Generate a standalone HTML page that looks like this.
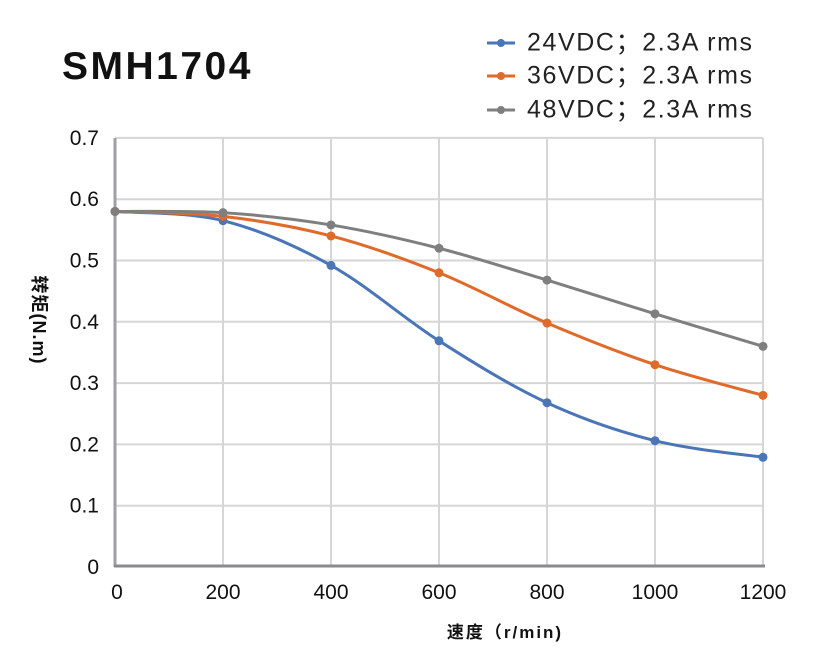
<!DOCTYPE html>
<html><head><meta charset="utf-8"><style>
html,body{margin:0;padding:0;background:#fff;}
svg{display:block;font-family:"Liberation Sans","Noto Sans CJK SC",sans-serif;}
</style></head><body>
<svg id="c" width="831" height="660" viewBox="0 0 831 660" xmlns="http://www.w3.org/2000/svg">
<rect width="831" height="660" fill="#fff"/>
<text x="62" y="79" font-size="39" font-weight="bold" fill="#111" letter-spacing="2.5">SMH1704</text>
<g id="grid" stroke="#d6d6d6" stroke-width="2"></g>
<line x1="115" y1="138" x2="115" y2="567" stroke="#a0a0a4" stroke-width="3"/>
<line x1="114" y1="566" x2="765" y2="566" stroke="#8a8a8e" stroke-width="3"/>
<g id="ylab" font-size="21" fill="#111" text-anchor="end"></g>
<g id="xlab" font-size="21" fill="#111" text-anchor="middle"></g>
<g id="series"></g>
<text x="505" y="638" font-size="17" font-weight="bold" text-anchor="middle" fill="#111" letter-spacing="2">速度（r/min)</text>
<text transform="translate(33,320) rotate(90)" font-size="18" font-weight="bold" text-anchor="middle" fill="#111" letter-spacing="1">转矩(N.m)</text>
<g font-size="25" fill="#222" letter-spacing="1.6">
<line x1="487" y1="43" x2="515" y2="43" stroke="#4a76b8" stroke-width="3"/><circle cx="501" cy="43" r="4" fill="#4a76b8"/>
<text x="527" y="44" dominant-baseline="middle">24VDC；2.3A rms</text>
<line x1="487" y1="76" x2="515" y2="76" stroke="#e06a2a" stroke-width="3"/><circle cx="501" cy="76" r="4" fill="#e06a2a"/>
<text x="527" y="77" dominant-baseline="middle">36VDC；2.3A rms</text>
<line x1="487" y1="110" x2="515" y2="110" stroke="#7f7f7f" stroke-width="3"/><circle cx="501" cy="110" r="4" fill="#7f7f7f"/>
<text x="527" y="111" dominant-baseline="middle">48VDC；2.3A rms</text>
</g>
</svg>
<script>
var NS="http://www.w3.org/2000/svg";
function el(t,a,p){var e=document.createElementNS(NS,t);for(var k in a)e.setAttribute(k,a[k]);p.appendChild(e);return e;}
var X=function(v){return 115+v*0.54;},Y=function(v){return 567-v*613;};
var g=document.getElementById('grid'),yl=document.getElementById('ylab'),xl=document.getElementById('xlab');
for(var i=1;i<=7;i++){var y=Y(i/10);el('line',{x1:115,y1:y,x2:763,y2:y},g);}
for(var j=1;j<=6;j++){var x=X(j*200);el('line',{x1:x,y1:138,x2:x,y2:566},g);}
for(var i=0;i<=7;i++){var t=el('text',{x:99,y:Y(i/10)+7},yl);t.textContent=i==0?'0':(i/10).toFixed(1);}
for(var j=0;j<=6;j++){var t=el('text',{x:X(j*200)+(j==0?2:0),y:599},xl);t.textContent=j*200;}
var S=[["#4a76b8",[0.58,0.565,0.492,0.369,0.268,0.206,0.179]],
["#e06a2a",[0.58,0.572,0.54,0.48,0.398,0.33,0.28]],
["#7f7f7f",[0.58,0.578,0.558,0.52,0.468,0.413,0.36]]];
var sg=document.getElementById('series');
S.forEach(function(s){
var p=s[1].map(function(v,i){return [X(i*200),Y(v)];});
var d="M"+p[0][0]+","+p[0][1];
for(var i=0;i<p.length-1;i++){
var p0=p[i-1]||p[i],p1=p[i],p2=p[i+1],p3=p[i+2]||p2,k=1/6;
d+=" C"+(p1[0]+(p2[0]-p0[0])*k)+","+(p1[1]+(p2[1]-p0[1])*k)+" "+(p2[0]-(p3[0]-p1[0])*k)+","+(p2[1]-(p3[1]-p1[1])*k)+" "+p2[0]+","+p2[1];}
el('path',{d:d,fill:'none',stroke:s[0],'stroke-width':3},sg);
p.forEach(function(q){el('circle',{cx:q[0],cy:q[1],r:4.5,fill:s[0]},sg);});
});
</script>
</body></html>
